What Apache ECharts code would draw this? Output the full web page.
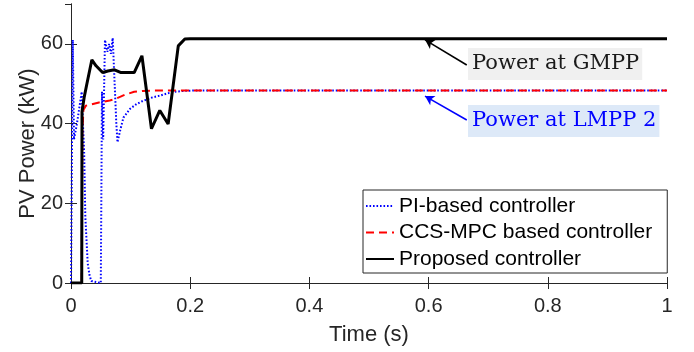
<!DOCTYPE html>
<html>
<head>
<meta charset="utf-8">
<script src="https://cdn.jsdelivr.net/npm/echarts@6/dist/echarts.min.js"></script>
<style>
  html, body { margin: 0; padding: 0; background: #fff; }
  #main { width: 694px; height: 352px; }
</style>
</head>
<body>
<div id="main"></div>
<script>
// values (time in s, power in kW)
const piTime = [0, 0.003, 0.005, 0.010, 0.014, 0.018, 0.020, 0.022, 0.024, 0.028, 0.031, 0.034, 0.036, 0.050, 0.052, 0.054, 0.057, 0.061, 0.064, 0.067, 0.070, 0.072, 0.076, 0.078, 0.082, 0.088, 0.099, 0.110, 0.121, 0.135, 0.149, 0.162, 0.175, 0.190, 0.210, 1];
const piPower = [0, 61, 36, 40, 44, 48, 40, 33, 16.6, 5, 2, 0.5, 0, 0, 48, 36, 61, 58, 60, 57.5, 61.5, 61, 40, 35.3, 38, 41.5, 43.7, 44.9, 45.7, 46.5, 47, 47.6, 48, 48.2, 48.3, 48.3];

const mpcTime = [0, 0.018, 0.019, 0.021, 0.025, 0.047, 0.065, 0.075, 0.090, 0.106, 0.120, 0.140, 1];
const mpcPower = [0, 0, 38, 43.5, 44.5, 45.3, 45.8, 46.2, 47.2, 48.0, 48.2, 48.3, 48.3];

const propTime = [0, 0.018, 0.0185, 0.022, 0.026, 0.035, 0.042, 0.053, 0.062, 0.073, 0.084, 0.106, 0.119, 0.135, 0.149, 0.163, 0.180, 0.191, 0.200, 1];
const propPower = [0, 0, 43, 46.5, 49.5, 56, 54.5, 52.8, 53.2, 53.5, 52.8, 52.8, 57, 38.7, 43.3, 39.9, 59.5, 61.2, 61.3, 61.3];

const seriesNames = ['PI-based controller', 'CCS-MPC based controller', 'Proposed controller'];
const xTicks = [0, 0.2, 0.4, 0.6, 0.8, 1];

// annotation arrows: [tail, head] in data units
const gmppArrow = [[0.664, 54.7], [0.594, 61.0]];
const lmppArrow = [[0.664, 40.9], [0.594, 46.9]];

function pairs(t, v) {
    return t.map((x, i) => [x, v[i]]);
}

const axisColor = '#262626';
const font = 'Liberation Sans';

let myChart = echarts.init(document.getElementById('main'));

let option = {
    animation: false,
    backgroundColor: '#fff',
    grid: { left: 71, right: 27, top: 4, bottom: 69 },
    xAxis: [
        {
            type: 'value', min: 0, max: 1, interval: 0.2,
            name: 'Time (s)', nameLocation: 'middle', nameGap: 41, nameMoveOverlap: false,
            nameTextStyle: { fontFamily: font, fontSize: 22, color: axisColor },
            axisLine: { lineStyle: { color: axisColor, width: 1 } },
            axisTick: { inside: true, length: 6, lineStyle: { color: axisColor } },
            axisLabel: {
                margin: 13, fontFamily: font, fontSize: 20, color: axisColor,
                formatter: v => xTicks.includes(+v.toFixed(1)) ? String(+v.toFixed(1)) : ''
            },
            splitLine: { show: false }
        },
        {
            type: 'value', min: 0, max: 1, interval: 0.2, position: 'top',
            axisLine: { lineStyle: { color: axisColor, width: 1 } },
            axisTick: { inside: true, length: 6, lineStyle: { color: axisColor } },
            axisLabel: { show: false },
            splitLine: { show: false }
        }
    ],
    yAxis: [
        {
            type: 'value', min: 0, max: 70, interval: 20,
            name: 'PV Power (kW)', nameLocation: 'middle', nameGap: 32, nameMoveOverlap: false,
            nameTextStyle: { fontFamily: font, fontSize: 22, color: axisColor },
            axisLine: { show: true, lineStyle: { color: axisColor, width: 1 } },
            axisTick: { show: true, inside: true, length: 6, lineStyle: { color: axisColor } },
            axisLabel: { margin: 8, fontFamily: font, fontSize: 20, color: axisColor, showMaxLabel: false },
            splitLine: { show: false }
        },
        {
            type: 'value', min: 0, max: 70, interval: 20, position: 'right',
            axisLine: { show: true, lineStyle: { color: axisColor, width: 1 } },
            axisTick: { show: true, inside: true, length: 6, lineStyle: { color: axisColor } },
            axisLabel: { show: false },
            splitLine: { show: false }
        }
    ],
    legend: {
        orient: 'vertical',
        left: 363, top: 190,
        padding: [5.5, 15, 3.5, 2],
        itemGap: 5.5,
        itemWidth: 28, itemHeight: 14,
        itemStyle: { opacity: 0 },
        backgroundColor: '#fff',
        borderColor: axisColor, borderWidth: 1, borderRadius: 0,
        textStyle: { fontFamily: font, fontSize: 21, lineHeight: 21, color: '#000' },
        data: seriesNames
    },
    series: [
        {
            name: seriesNames[0], type: 'line', symbol: 'none',
            data: pairs(piTime, piPower),
            lineStyle: { color: '#0000ff', width: 2, type: [1.6, 1.9] },
            itemStyle: { color: '#0000ff' },
            markLine: {
                silent: true, symbol: ['none', 'arrow'], symbolSize: [8, 9],
                label: { show: false },
                lineStyle: { color: '#0000ff', width: 1.6, type: 'solid' },
                data: [[{ coord: lmppArrow[0] }, { coord: lmppArrow[1] }]]
            },
            z: 2
        },
        {
            name: seriesNames[1], type: 'line', symbol: 'none',
            data: pairs(mpcTime, mpcPower),
            lineStyle: { color: '#ff0000', width: 2, type: [8, 5] },
            itemStyle: { color: '#ff0000' },
            z: 3
        },
        {
            name: seriesNames[2], type: 'line', symbol: 'none',
            data: pairs(propTime, propPower),
            lineStyle: { color: '#000000', width: 3 },
            itemStyle: { color: '#000000' },
            markLine: {
                silent: true, symbol: ['none', 'arrow'], symbolSize: [8, 9],
                label: { show: false },
                lineStyle: { color: '#000000', width: 1.6, type: 'solid' },
                data: [[{ coord: gmppArrow[0] }, { coord: gmppArrow[1] }]]
            },
            z: 4
        }
    ],
    graphic: [
        {
            type: 'text', left: 468, top: 48, z: 10,
            style: {
                text: 'Power at GMPP', font: '21px "DejaVu Serif"', fill: '#1a1a1a',
                backgroundColor: '#f0f0f0', padding: [5, 3, 6, 4]
            }
        },
        {
            type: 'text', left: 468, top: 105, z: 10,
            style: {
                text: 'Power at LMPP 2', font: '21px "DejaVu Serif"', fill: '#0000ff',
                backgroundColor: '#dde9f8', padding: [5, 3, 6, 4]
            }
        }
    ]
};

myChart.setOption(option);
</script>
</body>
</html>
